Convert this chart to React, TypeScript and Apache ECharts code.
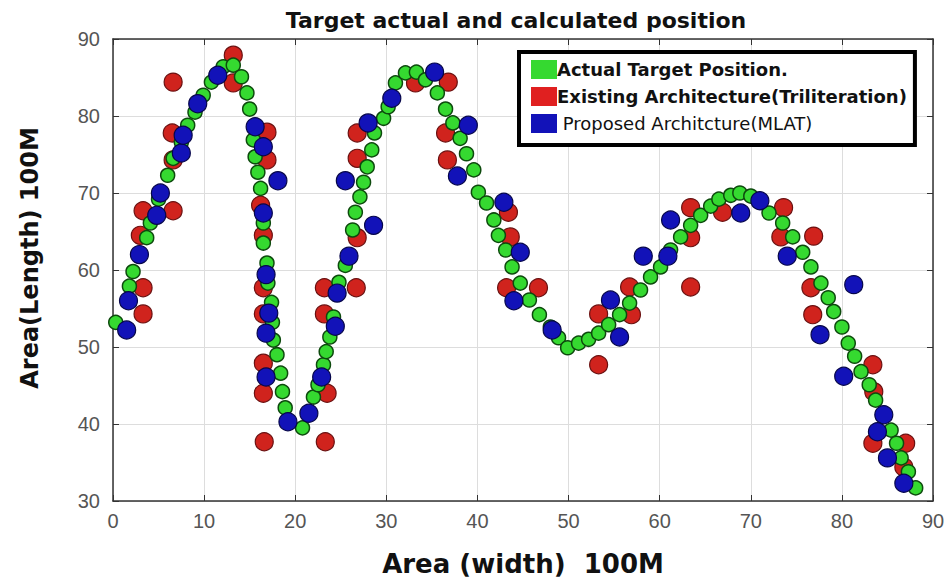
import React, { useEffect, useRef } from "react";
import * as echarts from "echarts";

const xTicks = [0, 90];
const yTicks = [30, 90];

const actualX = [0.3, 1.8, 2.2, 3.7, 4.1, 5.0, 6.0, 6.6, 7.5, 8.2, 9.0, 9.9, 10.8, 12.1, 13.2, 14.1, 14.7, 15.0, 15.4, 15.6, 15.9, 16.2, 16.5, 16.5, 16.9, 17.0, 17.4, 17.5, 17.6, 18.0, 18.4, 18.6, 18.9, 20.8, 22.0, 22.5, 23.1, 23.4, 23.8, 24.2, 24.8, 25.5, 26.3, 26.6, 27.1, 27.5, 27.9, 28.4, 28.7, 29.7, 30.2, 31.0, 32.1, 33.3, 34.3, 35.6, 36.5, 37.3, 38.1, 38.8, 39.6, 40.1, 41.0, 41.8, 42.3, 43.1, 43.8, 44.7, 45.7, 46.8, 48.0, 48.9, 49.9, 51.1, 52.2, 53.3, 54.4, 55.6, 56.7, 57.9, 59.0, 60.1, 61.2, 62.3, 63.4, 64.5, 65.6, 66.5, 67.8, 68.8, 70.0, 71.0, 72.0, 73.5, 74.6, 75.7, 76.6, 77.7, 78.5, 79.1, 80.0, 80.7, 81.4, 82.1, 83.0, 83.7, 84.5, 85.4, 86.0, 86.5, 87.3, 88.1];
const actualY = [53.2, 57.9, 59.8, 64.2, 66.1, 69.2, 72.3, 74.5, 76.6, 78.8, 80.5, 82.7, 84.4, 86.4, 86.6, 85.1, 83.0, 80.9, 76.9, 74.7, 72.7, 70.6, 66.1, 63.5, 60.9, 58.3, 55.8, 53.2, 50.9, 49.0, 46.6, 44.2, 42.1, 39.5, 43.5, 45.1, 47.7, 49.4, 51.3, 53.9, 58.4, 60.6, 65.2, 67.5, 69.5, 71.4, 73.4, 75.6, 77.8, 79.7, 81.2, 84.3, 85.6, 85.7, 84.7, 83.0, 80.9, 79.1, 77.1, 75.1, 73.0, 70.1, 68.7, 66.5, 64.5, 62.6, 60.4, 58.3, 56.1, 54.2, 52.6, 51.2, 49.9, 50.5, 51.0, 51.8, 52.9, 54.2, 55.7, 57.4, 59.1, 60.4, 62.6, 64.3, 65.8, 67.1, 68.3, 69.2, 69.7, 70.0, 69.6, 68.8, 67.4, 66.1, 64.3, 62.3, 60.4, 58.3, 56.4, 54.6, 52.6, 50.5, 48.8, 46.8, 45.1, 43.1, 41.1, 39.2, 37.5, 35.6, 33.8, 31.7];

const existingX = [3.0, 3.3, 3.3, 3.3, 6.6, 6.5, 6.6, 6.6, 13.2, 13.2, 16.9, 16.9, 16.2, 16.5, 16.5, 16.5, 16.5, 16.5, 16.6, 23.2, 23.2, 23.5, 23.3, 26.7, 26.8, 26.8, 26.8, 33.2, 36.8, 36.5, 36.7, 43.4, 43.6, 43.2, 46.7, 53.3, 53.3, 56.7, 56.9, 63.4, 63.4, 63.4, 66.9, 73.6, 73.3, 76.9, 76.6, 76.8, 83.4, 83.5, 83.4, 87.0, 86.8];
const existingY = [64.5, 67.7, 57.7, 54.3, 67.7, 77.8, 84.4, 74.3, 87.9, 84.3, 77.9, 74.3, 68.4, 64.5, 57.7, 54.3, 47.9, 44.0, 37.7, 57.7, 54.3, 44.0, 37.7, 57.7, 64.2, 74.5, 77.8, 84.3, 84.4, 77.8, 74.3, 67.5, 64.3, 57.7, 57.7, 54.3, 47.7, 57.8, 54.2, 68.1, 64.2, 57.8, 67.5, 68.1, 64.3, 64.4, 57.7, 54.2, 47.7, 44.2, 37.5, 37.5, 34.4];

const proposedX = [1.5, 1.7, 2.9, 4.8, 5.2, 7.5, 7.7, 9.3, 11.5, 15.6, 16.5, 18.1, 16.5, 16.8, 17.1, 16.8, 16.8, 19.2, 21.5, 22.9, 24.4, 24.6, 25.9, 25.5, 28.6, 28.0, 30.6, 35.3, 39.0, 37.8, 42.9, 44.7, 44.0, 48.2, 54.6, 55.6, 58.2, 60.9, 61.2, 68.9, 71.0, 74.0, 77.6, 81.3, 80.2, 84.6, 83.9, 85.0, 86.8];
const proposedY = [52.2, 56.0, 62.0, 67.1, 70.0, 75.2, 77.5, 81.6, 85.3, 78.6, 76.0, 71.6, 67.4, 59.4, 54.4, 51.8, 46.1, 40.3, 41.4, 46.1, 52.7, 57.0, 61.8, 71.6, 65.8, 79.1, 82.3, 85.7, 78.8, 72.2, 68.8, 62.3, 56.0, 52.2, 56.1, 51.3, 61.8, 61.8, 66.5, 67.4, 69.0, 61.8, 51.6, 58.1, 46.2, 41.2, 39.0, 35.6, 32.3];

const seriesNames = [
  "Actual Target Position.",
  "Existing Architecture(Triliteration)",
  " Proposed Architcture(MLAT)",
];
const titleText = "Target actual and calculated position";
const xName = "Area (width)  100M";
const yName = "Area(Length) 100M";

const zip = (xs: number[], ys: number[]) => xs.map((x, i) => [x, ys[i]]);

export default function App() {
  const ref = useRef<HTMLDivElement>(null);
  useEffect(() => {
    document.body.style.margin = "0";
    const chart = echarts.init(ref.current!, null, { renderer: "svg" });
    const font = "Liberation Sans, Arial, sans-serif";
    const bold = "DejaVu Sans, sans-serif";
    const axisCommon = {
      interval: 10,
      axisLine: { show: true, onZero: false, lineStyle: { color: "#333", width: 1.5 } },
      axisTick: { show: true, inside: true, length: 6, lineStyle: { color: "#333" } },
    };
    const legendIcon = "path://M0,0 L26,0 L26,19 L0,19 Z";
    chart.setOption({
      animation: false,
      backgroundColor: "#fff",
      title: {
        text: titleText,
        left: 511,
        top: 4,
        textAlign: "center",
        textStyle: { fontFamily: bold, fontSize: 22, fontWeight: "bold", color: "#111" },
      },
      grid: { left: 113, right: 17, top: 39, bottom: 83 },
      legend: {
        orient: "vertical",
        left: 519,
        top: 52,
        backgroundColor: "#fff",
        borderColor: "#000",
        borderWidth: 4,
        borderRadius: 0,
        padding: [8, 8, 12, 12],
        itemGap: 8,
        itemWidth: 26,
        itemHeight: 19,
        icon: legendIcon,
        itemStyle: { borderWidth: 0 },
        data: [
          { name: seriesNames[0], icon: legendIcon, itemStyle: { color: "#35d930", borderWidth: 0 }, textStyle: { fontWeight: "bold" } },
          { name: seriesNames[1], icon: legendIcon, itemStyle: { color: "#e02020", borderWidth: 0 }, textStyle: { fontWeight: "bold" } },
          { name: seriesNames[2], icon: legendIcon, itemStyle: { color: "#1212b8", borderWidth: 0 }, textStyle: { fontWeight: "normal" } },
        ],
        textStyle: { fontFamily: bold, fontSize: 18, color: "#111", padding: [0, 0, 0, -5] },
      },
      graphic: [
        {
          type: "text",
          x: 30,
          y: 258,
          rotation: Math.PI / 2,
          style: {
            text: yName,
            fontFamily: bold,
            fontSize: 24,
            fontWeight: "bold",
            fill: "#111",
            align: "center",
            verticalAlign: "middle",
          },
        },
      ],
      xAxis: [
        {
          ...axisCommon,
          type: "value",
          min: xTicks[0],
          max: xTicks[1],
          position: "bottom",
          name: xName,
          nameLocation: "middle",
          nameGap: 50,
          nameTextStyle: { fontFamily: bold, fontSize: 26, fontWeight: "bold", color: "#111" },
          axisLabel: { fontFamily: font, fontSize: 20, color: "#555", margin: 10 },
          splitLine: { show: true, lineStyle: { color: "#ddd", width: 1 } },
        },
        {
          ...axisCommon,
          type: "value",
          min: xTicks[0],
          max: xTicks[1],
          position: "top",
          axisLabel: { show: false },
          splitLine: { show: false },
        },
      ],
      yAxis: [
        {
          ...axisCommon,
          type: "value",
          min: yTicks[0],
          max: yTicks[1],
          position: "left",
          axisLabel: { fontFamily: font, fontSize: 20, color: "#555", margin: 13 },
          splitLine: { show: true, lineStyle: { color: "#ddd", width: 1 } },
        },
        {
          ...axisCommon,
          type: "value",
          min: yTicks[0],
          max: yTicks[1],
          position: "right",
          axisLabel: { show: false },
          splitLine: { show: false },
        },
      ],
      series: [
        {
          name: seriesNames[1],
          type: "scatter",
          data: zip(existingX, existingY),
          symbolSize: 18,
          itemStyle: { color: "#d0231d", borderColor: "#6a1010", borderWidth: 1.2, opacity: 1 },
          z: 2,
        },
        {
          name: seriesNames[0],
          type: "scatter",
          data: zip(actualX, actualY),
          symbolSize: 14,
          itemStyle: { color: "#35d930", borderColor: "#0d4a0d", borderWidth: 1.5, opacity: 1 },
          z: 3,
        },
        {
          name: seriesNames[2],
          type: "scatter",
          data: zip(proposedX, proposedY),
          symbolSize: 18,
          itemStyle: { color: "#1212b8", borderColor: "#06064a", borderWidth: 1.2, opacity: 1 },
          z: 4,
        },
      ],
    });
    return () => chart.dispose();
  }, []);
  return <div ref={ref} style={{ width: 950, height: 584 }} />;
}
